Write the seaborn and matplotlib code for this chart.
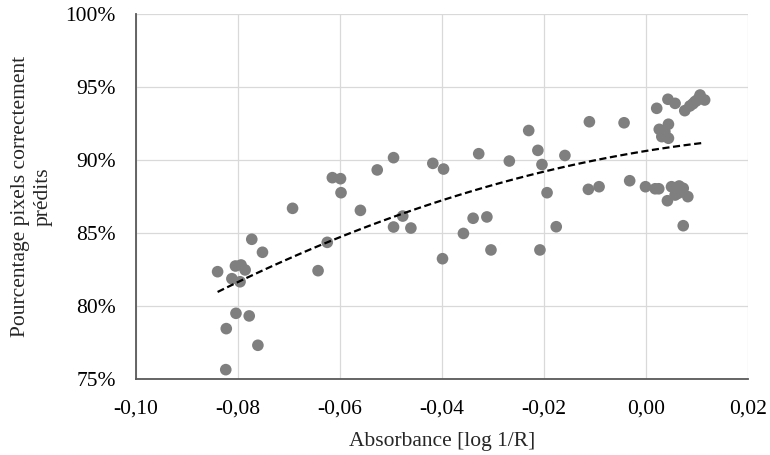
import numpy as np
import pandas as pd
import matplotlib
matplotlib.use("Agg")
import matplotlib.pyplot as plt
from matplotlib.ticker import FuncFormatter
import seaborn as sns

# Absorbance [log 1/R] of each sample
absorbance = [
    -0.0824, -0.0823, -0.0804, -0.0778, -0.0761, -0.0840, -0.0805, -0.0794,
    -0.0786, -0.0812, -0.0796, -0.0773, -0.0752, -0.0693, -0.0643, -0.0625,
    -0.0615, -0.0599, -0.0598, -0.0560, -0.0527, -0.0495, -0.0495, -0.0477,
    -0.0461, -0.0418, -0.0397, -0.0399, -0.0358, -0.0339, -0.0328, -0.0312,
    -0.0304, -0.0268, -0.0230, -0.0212, -0.0204, -0.0208, -0.0194, -0.0176,
    -0.0159, -0.0111, -0.0113, -0.0092, -0.0043, -0.0032, -0.0001, 0.0018,
    0.0025, 0.0050, 0.0065, 0.0073, 0.0057, 0.0042, 0.0082, 0.0063,
    0.0073, 0.0021, 0.0043, 0.0057, 0.0076, 0.0086, 0.0099, 0.0106,
    0.0115, 0.0026, 0.0044, 0.0031, 0.0044, 0.0037, 0.0092, 0.0096,
    0.0103,
]

# Share of correctly predicted pixels (%)
pct_correct = [
    75.64, 78.45, 79.50, 79.32, 77.31, 82.35, 82.74, 82.81,
    82.47, 81.87, 81.66, 84.57, 83.68, 86.69, 82.42, 84.36,
    88.79, 88.72, 87.76, 86.55, 89.32, 90.16, 85.41, 86.16,
    85.34, 89.77, 89.38, 83.24, 84.97, 86.01, 90.43, 86.10,
    83.84, 89.93, 92.02, 90.66, 89.69, 83.84, 87.76, 85.43,
    90.31, 92.62, 87.99, 88.17, 92.55, 88.58, 88.17, 88.03,
    88.03, 88.17, 88.22, 88.06, 87.60, 87.21, 87.49, 87.72,
    85.50, 93.54, 94.16, 93.88, 93.38, 93.70, 94.06, 94.45,
    94.11, 92.10, 92.45, 91.60, 91.49, 91.94, 93.85, 94.00,
    94.20,
]

x_ticks = [-0.10, -0.08, -0.06, -0.04, -0.02, 0.00, 0.02]
y_ticks = [75, 80, 85, 90, 95, 100]

df = pd.DataFrame({"absorbance": absorbance, "pct": pct_correct})

sns.set_style("white")
plt.rcParams["font.family"] = ["Liberation Serif", "DejaVu Serif"]
plt.rcParams["font.size"] = 15.5

fig = plt.figure(figsize=(7.7, 4.55), dpi=100)
ax = fig.add_axes([136 / 770, 1 - 379 / 455, (748 - 136) / 770, (379 - 14) / 455])

axis_color = "#595959"
grid_color = "#d9d9d9"

ax.set_axisbelow(True)
ax.grid(True, color=grid_color, linewidth=0.9)

sns.scatterplot(data=df, x="absorbance", y="pct", ax=ax, color="#7f7f7f",
                s=70, edgecolor="none", linewidth=0, zorder=3)

# second-order polynomial trend line
sns.regplot(data=df, x="absorbance", y="pct", ax=ax, order=2, ci=None,
            scatter=False, truncate=True,
            line_kws=dict(color="black", linestyle=(0, (3.2, 1.6)),
                          linewidth=1.6, zorder=4))

ax.set_xlim(-0.10, 0.02)
ax.set_ylim(75, 100)
ax.set_xticks(x_ticks)
ax.set_yticks(y_ticks)
ax.xaxis.set_major_formatter(
    FuncFormatter(lambda v, p: f"{v:.2f}".replace(".", ",").replace("-0,00", "0,00")))
ax.yaxis.set_major_formatter(FuncFormatter(lambda v, p: f"{v:.0f}%"))

for side in ["top", "right"]:
    ax.spines[side].set_visible(False)
for side in ["left", "bottom"]:
    ax.spines[side].set_color(axis_color)
    ax.spines[side].set_linewidth(1.3)

ax.tick_params(axis="both", which="major", direction="out", length=5.5,
               width=1.1, color=axis_color, labelcolor="black")
ax.tick_params(axis="y", pad=9)
ax.tick_params(axis="x", pad=9)

ax.set_xlabel("Absorbance [log 1/R]", labelpad=10)
ax.set_ylabel("Pourcentage pixels correctement\nprédits", labelpad=9, linespacing=1.25)

fig.savefig("out.png", dpi=100)
